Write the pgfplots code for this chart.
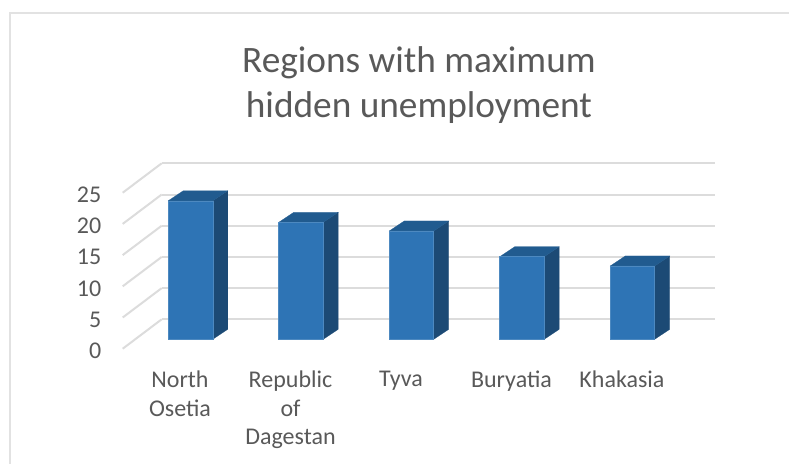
\documentclass[border=0pt]{standalone}
\usepackage{fontspec}
\setmainfont{Carlito}
\usepackage{pgfplots}
\pgfplotsset{compat=1.18}
\definecolor{txt}{HTML}{595959}
\definecolor{gridc}{HTML}{DCDCDC}
\definecolor{framec}{HTML}{E2E2E2}
\definecolor{front}{HTML}{2E74B5}
\definecolor{topf}{HTML}{215B8F}
\definecolor{sidef}{HTML}{1C4A75}
\pgfplotsset{
  gl/.style={draw=gridc,line width=2pt,no marks,forget plot},
  barshift/.style={xshift=10.5pt,yshift=9.4pt,forget plot},
  topface/.style={barshift,fill=topf,draw=topf,line width=0.2pt,no marks},
  sideface/.style={barshift,fill=sidef,draw=sidef,line width=0.2pt,no marks},
}
\begin{document}
\begin{tikzpicture}[x=1pt,y=1pt]
\draw[framec,line width=2pt] (10,0) -- (10,451) -- (789,451);
\begin{axis}[
  at={(122.7pt,115.3pt)},anchor=south west,
  scale only axis,width=553.3pt,height=156pt,
  xmin=-0.5186,xmax=4.489,ymin=0,ymax=25,
  clip=false,
  axis line style={draw=none},
  tick style={draw=none},
  major tick length=0pt,
  xtick={0,1,2,3,4},
  xticklabels={{North\\Osetia},{Republic\\of\\Dagestan},{Tyva},{Buryatia},{Khakasia}},
  ytick={0,5,10,15,20,25},
  /pgf/number format/assume math mode=true,
  yticklabel style={font=\fontsize{24}{28}\selectfont,text=txt,xshift=-18pt,yshift=-2pt},
  xticklabel style={font=\fontsize{24}{28.5}\selectfont,text=txt,align=center,yshift=-19pt},
  title={Regions with maximum\\hidden unemployment},
  title style={font=\fontsize{37.3}{45}\selectfont,text=txt,align=center,
    at={(axis description cs:0.5,1)},xshift=19.6pt,yshift=60pt},
]
% side wall
\addplot[gl] coordinates {(-0.5186,0) (-0.1657,4.71)};
\addplot[gl] coordinates {(-0.5186,5) (-0.1657,9.71)};
\addplot[gl] coordinates {(-0.5186,10) (-0.1657,14.71)};
\addplot[gl] coordinates {(-0.5186,15) (-0.1657,19.71)};
\addplot[gl] coordinates {(-0.5186,20) (-0.1657,24.71)};
\addplot[gl] coordinates {(-0.5186,25) (-0.1657,29.71)};
% back wall
\addplot[gl] coordinates {(-0.1657,4.71) (4.842,4.71)};
\addplot[gl] coordinates {(-0.1657,9.71) (4.842,9.71)};
\addplot[gl] coordinates {(-0.1657,14.71) (4.842,14.71)};
\addplot[gl] coordinates {(-0.1657,19.71) (4.842,19.71)};
\addplot[gl] coordinates {(-0.1657,24.71) (4.842,24.71)};
\addplot[gl] coordinates {(-0.1657,29.71) (4.842,29.71)};
% side faces
\addplot[sideface] coordinates {(0.2014,0) (0.2014,22.2) (0.3371,23.8) (0.3371,1.6)} --cycle;
\addplot[sideface] coordinates {(1.2014,0) (1.2014,18.75) (1.3371,20.35) (1.3371,1.6)} --cycle;
\addplot[sideface] coordinates {(2.2014,0) (2.2014,17.36) (2.3371,18.96) (2.3371,1.6)} --cycle;
\addplot[sideface] coordinates {(3.2014,0) (3.2014,13.24) (3.3371,14.84) (3.3371,1.6)} --cycle;
\addplot[sideface] coordinates {(4.2014,0) (4.2014,11.75) (4.3371,13.35) (4.3371,1.6)} --cycle;
% top faces
\addplot[topface] coordinates {(-0.2014,22.2) (0.2014,22.2) (0.3371,23.8) (-0.0657,23.8)} --cycle;
\addplot[topface] coordinates {(0.7986,18.75) (1.2014,18.75) (1.3371,20.35) (0.9343,20.35)} --cycle;
\addplot[topface] coordinates {(1.7986,17.36) (2.2014,17.36) (2.3371,18.96) (1.9343,18.96)} --cycle;
\addplot[topface] coordinates {(2.7986,13.24) (3.2014,13.24) (3.3371,14.84) (2.9343,14.84)} --cycle;
\addplot[topface] coordinates {(3.7986,11.75) (4.2014,11.75) (4.3371,13.35) (3.9343,13.35)} --cycle;
% front faces
\addplot[ybar,bar width=44.5pt,fill=front,draw=front!85!white,line width=0.5pt,barshift,bar shift=0pt]
  coordinates {(0,22.2) (1,18.75) (2,17.36) (3,13.24) (4,11.75)};
\end{axis}
\pgfresetboundingbox
\path[use as bounding box] (0,0) rectangle (789,464);
\end{tikzpicture}
\end{document}
